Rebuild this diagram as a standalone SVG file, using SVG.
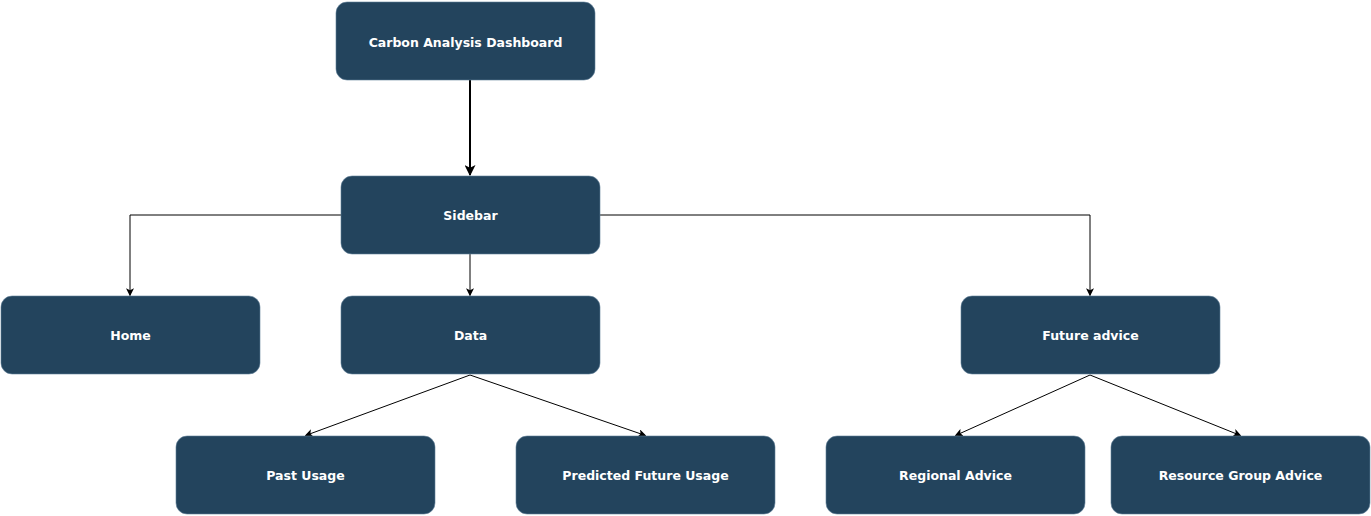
<svg xmlns="http://www.w3.org/2000/svg" width="1371" height="516" viewBox="0 0 1371 516">
<style>
.box{fill:#23445d;stroke:#5f7f99;stroke-width:0.6}
.lbl{font-family:"DejaVu Sans",Verdana,sans-serif;font-weight:bold;font-size:12.5px;fill:#ffffff;text-anchor:middle}
.edge{fill:none;stroke:#000000;stroke-width:1}
.thick{fill:none;stroke:#000000;stroke-width:2}
</style>
<defs>
<marker id="arr" viewBox="0 0 10 10" refX="9" refY="5" markerWidth="8" markerHeight="8" markerUnits="userSpaceOnUse" orient="auto">
<path d="M0,0 L10,5 L0,10 L2.5,5 Z" fill="#000"/>
</marker>
<marker id="arrB" viewBox="0 0 10 10" refX="9" refY="5" markerWidth="11" markerHeight="11" markerUnits="userSpaceOnUse" orient="auto">
<path d="M0,0 L10,5 L0,10 L2.5,5 Z" fill="#000"/>
</marker>
</defs>
<rect width="1371" height="516" fill="#ffffff"/>
<g id="connectors">
<path class="thick" d="M470,80 L470,175" marker-end="url(#arrB)"/>
<path class="edge" d="M341,215 L130,215 L130,295.5" marker-end="url(#arr)"/>
<path class="edge" d="M470,254 L470,295.5" marker-end="url(#arr)"/>
<path class="edge" d="M600,215 L1090,215 L1090,295.5" marker-end="url(#arr)"/>
<path class="edge" d="M470,375 L305.5,435.5" marker-end="url(#arr)"/>
<path class="edge" d="M470,375 L645.5,435.5" marker-end="url(#arr)"/>
<path class="edge" d="M1090,375 L955.5,435.5" marker-end="url(#arr)"/>
<path class="edge" d="M1090,375 L1240.5,435.5" marker-end="url(#arr)"/>
</g>
<g id="carbon"><rect class="box" x="336" y="2" width="259" height="78" rx="11"/><text class="lbl" x="465.5" y="46.5">Carbon Analysis Dashboard</text></g>
<g id="sidebar"><rect class="box" x="341" y="176" width="259" height="78" rx="11"/><text class="lbl" x="470.5" y="220">Sidebar</text></g>
<g id="home"><rect class="box" x="1" y="296" width="259" height="78" rx="11"/><text class="lbl" x="130.5" y="340">Home</text></g>
<g id="data"><rect class="box" x="341" y="296" width="259" height="78" rx="11"/><text class="lbl" x="470.5" y="340">Data</text></g>
<g id="future"><rect class="box" x="961" y="296" width="259" height="78" rx="11"/><text class="lbl" x="1090.5" y="340">Future advice</text></g>
<g id="past"><rect class="box" x="176" y="436" width="259" height="78" rx="11"/><text class="lbl" x="305.5" y="480">Past Usage</text></g>
<g id="predicted"><rect class="box" x="516" y="436" width="259" height="78" rx="11"/><text class="lbl" x="645.5" y="480">Predicted Future Usage</text></g>
<g id="regional"><rect class="box" x="826" y="436" width="259" height="78" rx="11"/><text class="lbl" x="955.5" y="480">Regional Advice</text></g>
<g id="resource"><rect class="box" x="1111" y="436" width="259" height="78" rx="11"/><text class="lbl" x="1240.5" y="480">Resource Group Advice</text></g>
</svg>
